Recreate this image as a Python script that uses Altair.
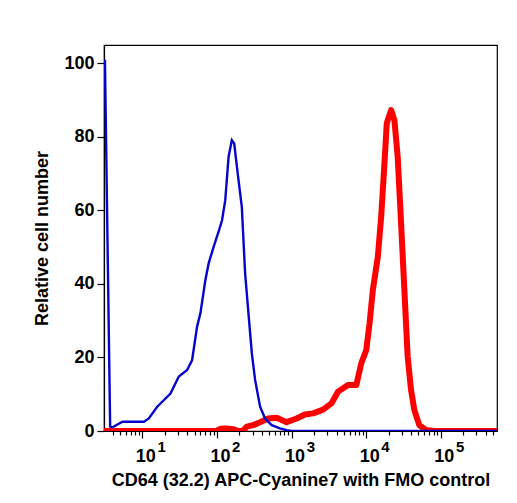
import altair as alt
import pandas as pd

# ---- data ----
blue_x = [3.15, 3.70, 3.98, 5.41, 10.5, 12.2, 15.8, 23.8, 30.8, 39.8, 46.4, 54.1, 59.9,
          69.8, 77.3, 90.1, 105, 117, 129, 143, 158, 170, 194, 215, 238, 264, 293, 324,
          378, 441, 541, 698, 857, 1000, 560000]
blue_y = [101, 1.2, 1.0, 2.5, 2.5, 3.4, 6.6, 10.2, 14.8, 16.6, 19.3, 28.4, 32,
          41, 45.6, 50.1, 54.2, 57.4, 62.8, 74.6, 79.1, 78.2, 68.3, 61, 42.9, 32, 21.1, 13.9,
          6.6, 3.4, 1.6, 0.7, 0.2, 0, 0]

red_x = [3.06, 98, 111, 133, 165, 192, 224, 251, 305, 378, 483, 631, 857, 1167, 1504,
         1941, 2636, 3413, 4180, 5690, 7360, 8570, 10000, 11070, 12250, 14290, 15850,
         17540, 18840, 21540, 23830, 26370, 29300, 32430, 35890, 39810, 44060, 51400,
         63100, 81470, 565000]
red_y = [0, 0, 0.6, 0.7, 0.5, 0, 0.1, 1.2, 1.6, 2.4, 3.4, 3.6, 2.4, 3.4, 4.5,
         4.8, 5.8, 7.5, 10.7, 12.5, 12.5, 18.4, 22, 29.3, 38.3, 47.4, 58.3,
         72.8, 83.7, 87.3, 84.6, 74.6, 56.5, 38.3, 20.2, 11.2, 5.7, 1.6,
         0.3, 0, 0]

decades = [10, 100, 1000, 10000, 100000]
exponents = ["1", "2", "3", "4", "5"]
x_ticks = [m * 10 ** e for e in range(0, 6) for m in range(1, 10) if 3.06 <= m * 10 ** e <= 565000]
y_ticks = list(range(0, 101, 5))

X_DOMAIN = [3.06, 565000]
Y_DOMAIN = [0, 105]
W, H = 393, 386
FONT = "Liberation Sans"

blue = pd.DataFrame({"x": blue_x, "y": blue_y})
red = pd.DataFrame({"x": red_x, "y": red_y})
exp_df = pd.DataFrame({"x": decades, "t": exponents})

major_x = "indexof([10,100,1000,10000,100000], datum.value) >= 0"
major_y = "datum.value % 20 == 0"

xscale = alt.Scale(type="log", domain=X_DOMAIN, nice=False)
yscale = alt.Scale(domain=Y_DOMAIN, nice=False, zero=False)

xaxis = alt.Axis(
    title="CD64 (32.2) APC-Cyanine7 with FMO control",
    values=x_ticks,
    labelExpr=f"{major_x} ? '10' : ''",
    tickSize={"condition": {"test": major_x, "value": 7}, "value": 4},
    labelOffset=3,
    labelPadding=9,
    labelFlush=False,
    labelOverlap=False,
    grid=False,
    titlePadding=6,
)
yaxis = alt.Axis(
    title="Relative cell number",
    values=y_ticks,
    labelExpr=f"{major_y} ? datum.label : ''",
    tickSize={"condition": {"test": major_y, "value": 7}, "value": 4},
    labelPadding=3,
    labelOverlap=False,
    grid=False,
    titlePadding=12,
)

red_line = alt.Chart(red).mark_line(color="#ff0000", strokeWidth=6, clip=True,
                                    strokeJoin="round").encode(
    x=alt.X("x:Q", scale=xscale, axis=xaxis),
    y=alt.Y("y:Q", scale=yscale, axis=yaxis),
)
blue_line = alt.Chart(blue).mark_line(color="#0505cc", strokeWidth=2.4, clip=True).encode(
    x=alt.X("x:Q", scale=xscale),
    y=alt.Y("y:Q", scale=yscale),
)
exp_text = alt.Chart(exp_df).mark_text(
    font=FONT, fontSize=15, fontWeight="bold", align="left", baseline="middle",
    dx=15, color="black"
).encode(
    x=alt.X("x:Q", scale=xscale),
    y=alt.value(H + 15.5),
    text="t:N",
)

chart = alt.layer(red_line, blue_line, exp_text).properties(
    width=W, height=H,
    padding={"left": 33, "top": 45, "right": 5, "bottom": 5},
).configure_view(
    stroke="black", strokeWidth=1.2
).configure_axis(
    domainColor="black", domainWidth=1.2, tickColor="black", tickWidth=1.2,
    labelFont=FONT, labelFontSize=18, labelFontWeight="bold", labelColor="black",
    titleFont=FONT, titleFontSize=18, titleFontWeight="bold", titleColor="black",
)

chart.save("out.html", embed_options={"renderer": "svg", "actions": False})
